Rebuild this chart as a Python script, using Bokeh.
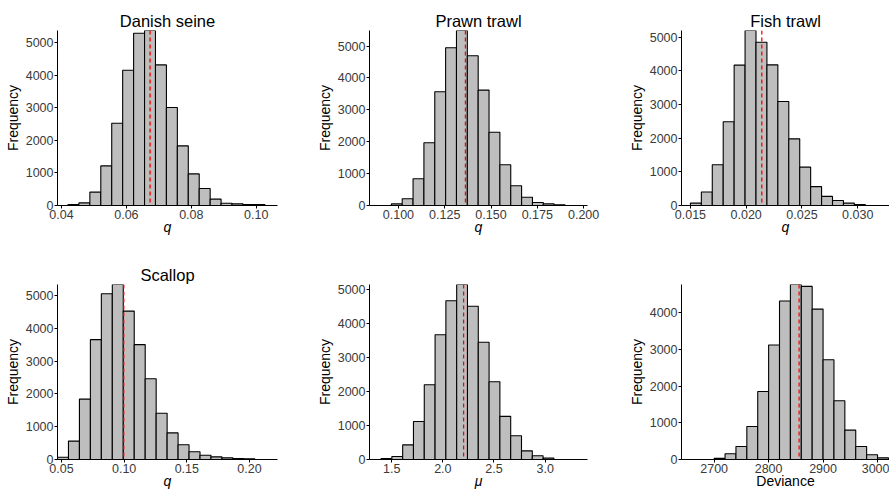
import numpy as np
from bokeh.plotting import figure
from bokeh.layouts import column, row
from bokeh.models import Range1d, FixedTicker, Span
from bokeh.embed import file_html
from bokeh.resources import INLINE

# ---------------- data ----------------
titles = ["Danish seine", "Prawn trawl", "Fish trawl", "Scallop", "", ""]
x_titles = ["q", "q", "q", "q", "\u03bc", "Deviance"]

danish_start, danish_width = 0.0420, 0.00337
danish_counts = [30, 80, 410, 1215, 2525, 4150, 5285, 5370, 4315, 3005,
                 1830, 970, 520, 195, 70, 50, 30, 30]
danish_mark = 0.0673
danish_xticks = [0.04, 0.06, 0.08, 0.10]
danish_xlabels = ["0.04", "0.06", "0.08", "0.10"]

prawn_start, prawn_width = 0.0962, 0.00586
prawn_counts = [50, 210, 840, 1970, 3570, 4950, 5490, 4700, 3620, 2300,
                1280, 620, 260, 95, 50, 20]
prawn_mark = 0.1362
prawn_xticks = [0.100, 0.125, 0.150, 0.175, 0.200]
prawn_xlabels = ["0.100", "0.125", "0.150", "0.175", "0.200"]

fish_start, fish_width = 0.0150, 0.00098
fish_counts = [70, 400, 1210, 2490, 4170, 5200, 4850, 4180, 3090, 1980,
               1140, 560, 270, 150, 70, 30]
fish_mark = 0.0214
fish_xticks = [0.015, 0.020, 0.025, 0.030]
fish_xlabels = ["0.015", "0.020", "0.025", "0.030"]

scallop_start, scallop_width = 0.0468, 0.00875
scallop_counts = [70, 560, 1840, 3650, 5050, 5330, 4520, 3500, 2460, 1410,
                  810, 450, 235, 130, 80, 50, 30, 20]
scallop_mark = 0.0997
scallop_xticks = [0.05, 0.10, 0.15, 0.20]
scallop_xlabels = ["0.05", "0.10", "0.15", "0.20"]

mu_start, mu_width = 1.396, 0.1056
mu_counts = [30, 90, 430, 1120, 2200, 3670, 4670, 5150, 4510, 3450,
             2290, 1270, 700, 255, 110, 40]
mu_mark = 2.203
mu_xticks = [1.5, 2.0, 2.5, 3.0]
mu_xlabels = ["1.5", "2.0", "2.5", "3.0"]

dev_start, dev_width = 2700, 20
dev_counts = [30, 155, 355, 900, 1855, 3120, 4320, 4770, 4720, 4100,
              2720, 1600, 800, 355, 130, 45]
dev_mark = 2856
dev_xticks = [2700, 2800, 2900, 3000]
dev_xlabels = ["2700", "2800", "2900", "3000"]

# x-axis view limits of each panel
x_limits = [(0.03877, 0.10656), (0.0844, 0.2021), (0.0142, 0.03285),
            (0.0468, 0.2224), (1.283, 3.414), (2640, 3022)]

panels = [
    (danish_start, danish_width, danish_counts, danish_mark, danish_xticks, danish_xlabels),
    (prawn_start, prawn_width, prawn_counts, prawn_mark, prawn_xticks, prawn_xlabels),
    (fish_start, fish_width, fish_counts, fish_mark, fish_xticks, fish_xlabels),
    (scallop_start, scallop_width, scallop_counts, scallop_mark, scallop_xticks, scallop_xlabels),
    (mu_start, mu_width, mu_counts, mu_mark, mu_xticks, mu_xlabels),
    (dev_start, dev_width, dev_counts, dev_mark, dev_xticks, dev_xlabels),
]

# ---------------- layout / style ----------------
FONT = "Liberation Sans"
col_w = [313, 312, 264]
col_bl = [57, 55, 54]
col_br = [36, 38, 0]
row_h = [250, 242]
row_bt = [30, 34]
row_bb = [45, 33]
mark_w = [2.0, 1.3, 1.3, 1.4, 1.3, 1.4]
mark_a = [0.7, 1, 1, 0.9, 1, 0.9]

figs = []
for i, (start, width, counts, mark, xt, xl) in enumerate(panels):
    r, c = divmod(i, 3)
    counts = np.array(counts, dtype=float)
    left = start + width * np.arange(len(counts))
    right = left + width
    ymax = counts.max()
    p = figure(width=col_w[c], height=row_h[r],
               x_range=Range1d(*x_limits[i]), y_range=Range1d(0, ymax),
               output_backend="svg", toolbar_location=None,
               min_border_left=col_bl[c], min_border_right=col_br[c],
               min_border_top=row_bt[r], min_border_bottom=row_bb[r],
               title=titles[i] if titles[i] else None)
    p.outline_line_color = None
    p.background_fill_color = "white"
    p.border_fill_color = "white"
    p.xgrid.visible = False
    p.ygrid.visible = False
    if titles[i]:
        p.title.align = "center"
        p.title.text_font = FONT
        p.title.text_font_size = "16.5px"
        p.title.text_font_style = "normal"
        p.title.text_color = "black"
        p.title.standoff = 2

    p.quad(left=left, right=right, bottom=0, top=counts,
           fill_color="#BEBEBE", line_color="black", line_width=1.1)
    p.add_layout(Span(location=mark, dimension="height", line_color="red",
                      line_dash="4 3", line_width=mark_w[i], line_alpha=mark_a[i]))

    yt = list(range(0, int(ymax) + 1, 1000))
    p.yaxis.ticker = FixedTicker(ticks=yt)
    p.yaxis.major_label_overrides = {v: str(v) for v in yt}
    p.xaxis.ticker = FixedTicker(ticks=xt)
    p.xaxis.major_label_overrides = {v: s for v, s in zip(xt, xl)}
    p.yaxis.axis_label = "Frequency"
    p.xaxis.axis_label = x_titles[i]
    p.xaxis.axis_label_text_font_style = "italic" if i < 5 else "normal"
    p.yaxis.axis_label_text_font_style = "normal"

    for ax in (p.xaxis, p.yaxis):
        ax.axis_line_color = "black"
        ax.axis_line_width = 1
        ax.major_tick_line_color = "black"
        ax.major_tick_line_width = 1
        ax.major_tick_out = 3
        ax.major_tick_in = 0
        ax.minor_tick_line_color = None
        ax.major_label_text_font = FONT
        ax.major_label_text_font_size = "12.5px"
        ax.major_label_text_color = "#3A3A3A"
        ax.axis_label_text_font = FONT
        ax.axis_label_text_font_size = "14px"
        ax.axis_label_text_color = "black"
    p.yaxis.major_label_standoff = 1
    p.yaxis.axis_label_standoff = 2
    p.xaxis.major_label_standoff = 1
    p.xaxis.axis_label_standoff = -3
    figs.append(p)

layout = column(row(*figs[:3]), row(*figs[3:]))
open("out.html", "w").write(file_html(layout, INLINE))
